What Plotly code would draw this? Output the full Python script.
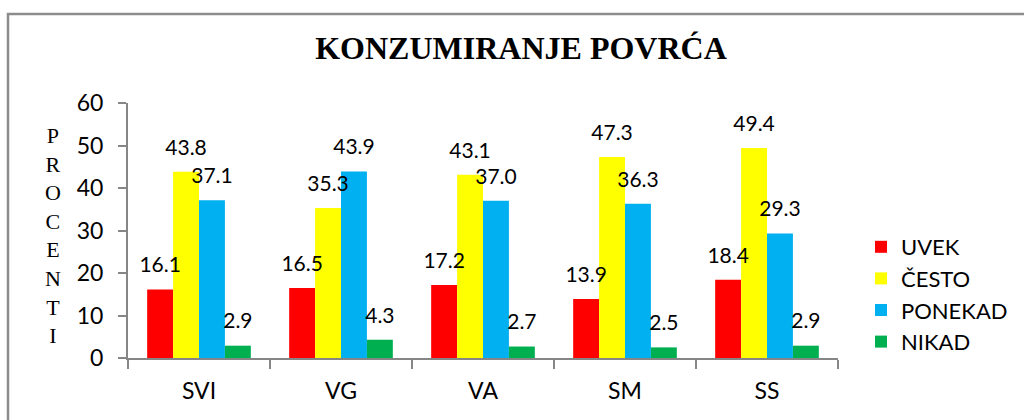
import plotly.graph_objects as go

categories = ["SVI", "VG", "VA", "SM", "SS"]
series_names = ["UVEK", "ČESTO", "PONEKAD", "NIKAD"]
uvek = [16.1, 16.5, 17.2, 13.9, 18.4]
cesto = [43.8, 35.3, 43.1, 47.3, 49.4]
ponekad = [37.1, 43.9, 37.0, 36.3, 29.3]
nikad = [2.9, 4.3, 2.7, 2.5, 2.9]
colors = ["#FF0000", "#FFFF00", "#00B0F0", "#00B050"]
title_text = "KONZUMIRANJE POVRĆA"
y_label = "PROCENTI"

W, H = 1024, 420
ml, mr, mt, mb = 128, 186, 103, 62
Y_MAX = 60
LABEL_LIFT = 2.4  # axis units the label layer is lifted by

LABEL_FONT = dict(family="Lato, Liberation Sans, sans-serif", size=21, color="#000")

fig = go.Figure()
all_series = [uvek, cesto, ponekad, nikad]
for name, vals, col in zip(series_names, all_series, colors):
    fig.add_trace(go.Bar(
        x=categories, y=vals, name=name, marker=dict(color=col, line=dict(width=0)),
        hoverinfo="skip",
    ))
# value labels drawn on an overlaying axis so they sit on top of every bar
for name, vals in zip(series_names, all_series):
    fig.add_trace(go.Bar(
        x=categories, y=vals, name=name, yaxis="y2", showlegend=False,
        marker=dict(color="rgba(0,0,0,0)", line=dict(width=0)),
        text=[f"{v:.1f}" for v in vals], textposition="outside", constraintext="none",
        textfont=LABEL_FONT, cliponaxis=False, hoverinfo="skip",
    ))

pw = W - ml - mr
ph = H - mt - mb

def px2x(px):
    return (px - ml) / pw

def px2y(py):
    return (H - mb - py) / ph

fig.update_layout(
    width=W, height=H,
    margin=dict(l=ml, r=mr, t=mt, b=mb, autoexpand=False),
    paper_bgcolor="white", plot_bgcolor="white",
    barmode="group", bargap=0.27, bargroupgap=0,
    showlegend=True,
    legend=dict(
        x=px2x(861), y=px2y(226), xanchor="left", yanchor="top",
        font=dict(family="Lato, Liberation Sans, sans-serif", size=22, color="#000"),
        itemwidth=30, tracegroupgap=0, bgcolor="rgba(0,0,0,0)",
    ),
    title=dict(
        text=f"<b>{title_text}</b>", x=px2x(521), xref="paper", xanchor="center",
        y=1 - 48 / H, yanchor="middle",
        font=dict(family="Liberation Serif, Times New Roman, serif", size=32, color="#000"),
    ),
    xaxis=dict(
        showline=True, linecolor="#868686", linewidth=2,
        ticks="outside", tickson="boundaries", ticklen=9, tickcolor="#868686", tickwidth=2,
        tickfont=dict(family="Lato, Liberation Sans, sans-serif", size=23, color="#000"),
        ticklabelstandoff=11,
        showgrid=False, zeroline=False,
    ),
    yaxis=dict(
        range=[0, Y_MAX], dtick=10, showline=True, linecolor="#868686", linewidth=2,
        ticks="outside", ticklen=8, tickcolor="#868686", tickwidth=2,
        tickfont=dict(family="Lato, Liberation Sans, sans-serif", size=23, color="#000"),
        ticklabelstandoff=10,
        showgrid=False, zeroline=False,
    ),
    yaxis2=dict(
        overlaying="y", range=[-LABEL_LIFT, Y_MAX - LABEL_LIFT], visible=False,
        showgrid=False, zeroline=False,
    ),
)

fig.add_annotation(
    text="<br>".join(list(y_label)), xref="paper", yref="paper",
    x=px2x(53), y=px2y(236), xanchor="center", yanchor="middle",
    showarrow=False, align="center",
    font=dict(family="Liberation Serif, Times New Roman, serif", size=22, color="#000"),
)

# chart border
fig.add_shape(
    type="rect", xref="paper", yref="paper",
    x0=px2x(8), x1=px2x(1040), y0=px2y(440), y1=px2y(14),
    line=dict(color="#8C8C8C", width=2.5), fillcolor="rgba(0,0,0,0)", layer="below",
)

fig.write_html(
    "out.html",
    config={"displayModeBar": False},
    post_script="document.body.style.margin='0';document.body.style.overflow='hidden';",
)
